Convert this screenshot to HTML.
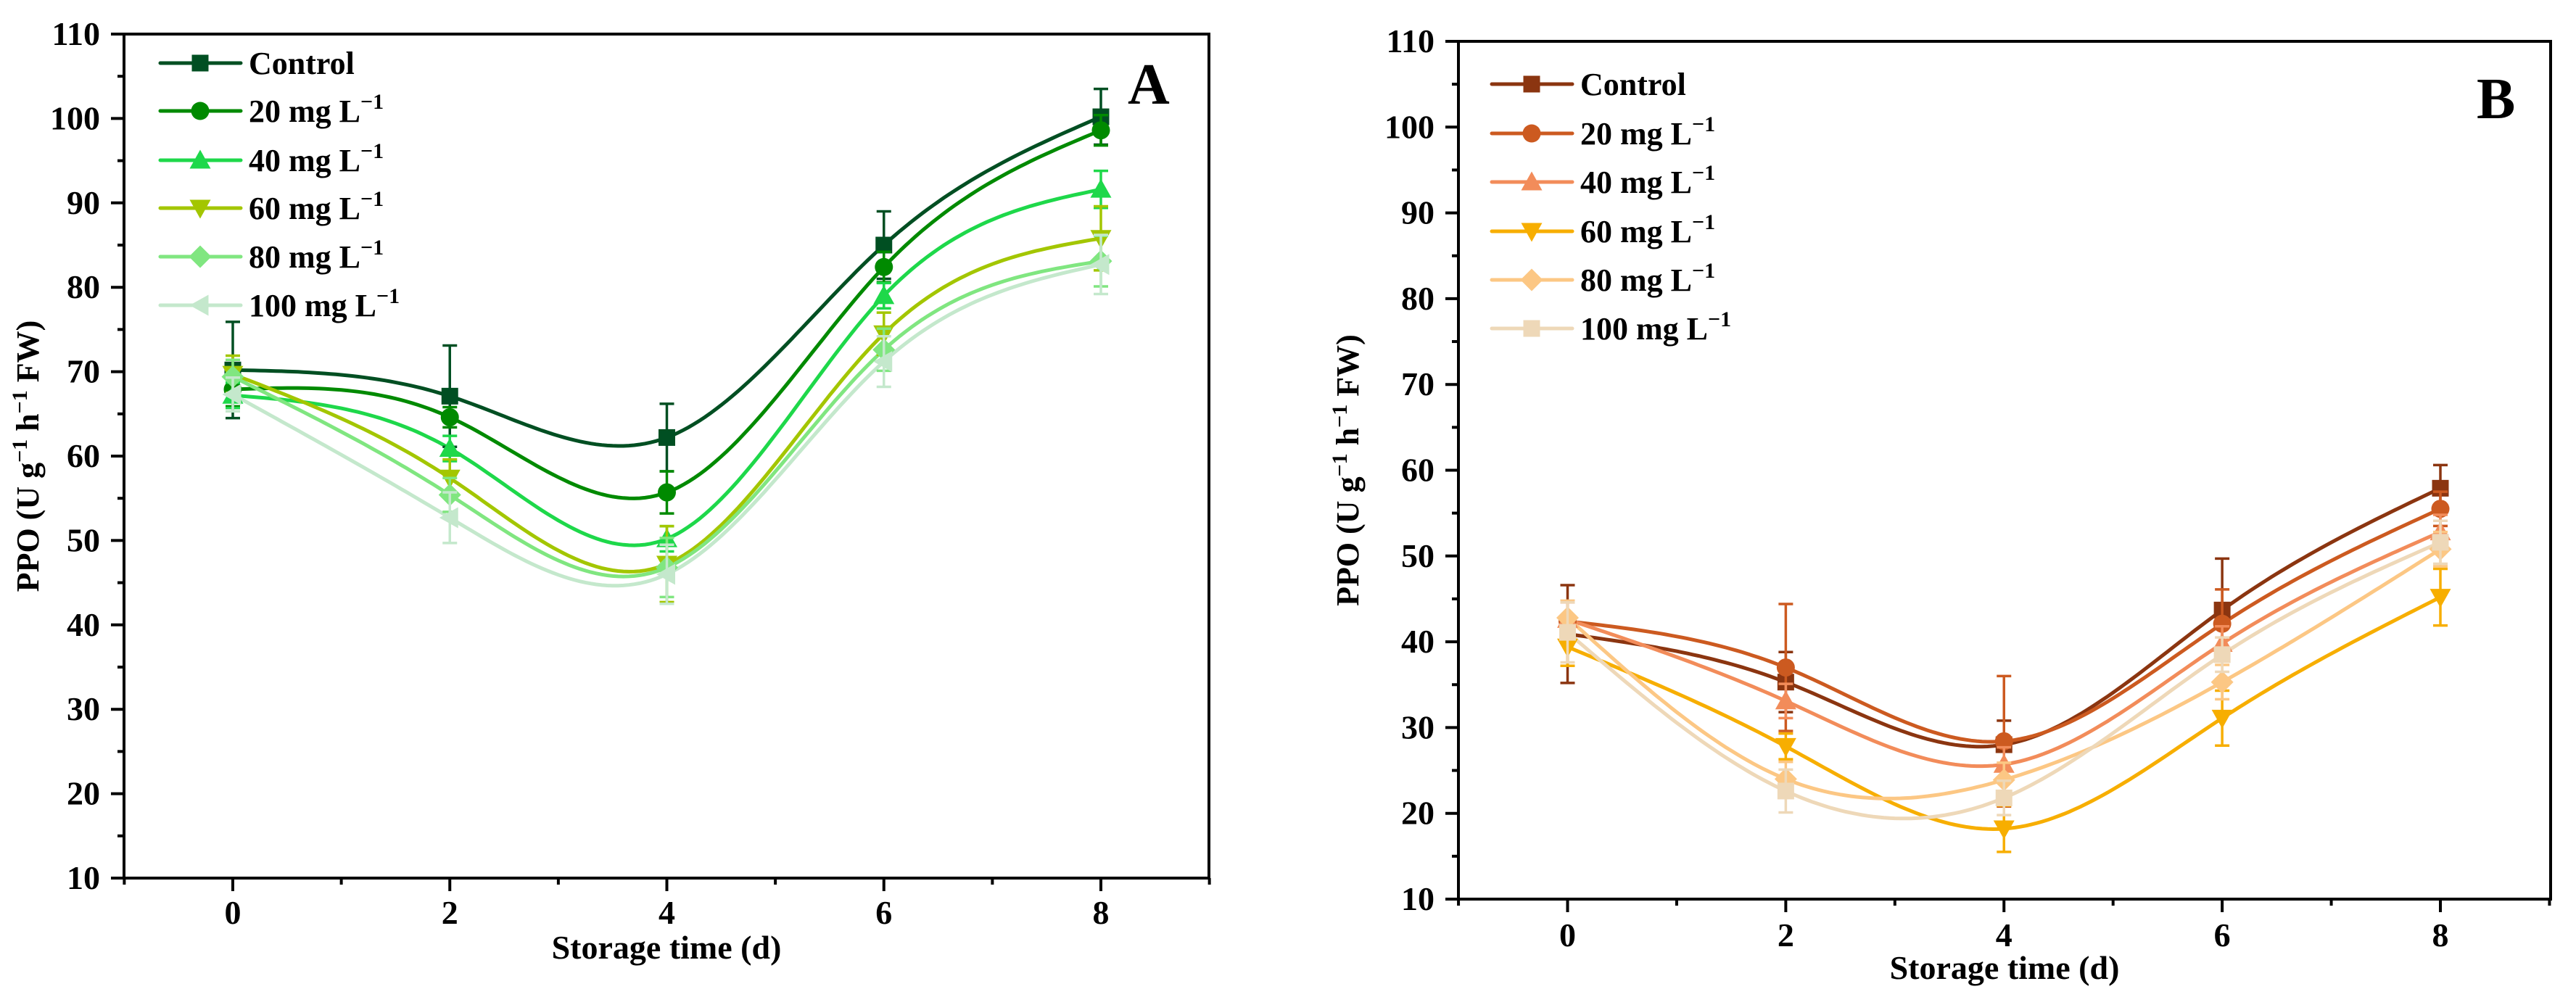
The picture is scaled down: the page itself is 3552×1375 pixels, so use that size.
<!DOCTYPE html>
<html><head><meta charset="utf-8"><style>
html,body{margin:0;padding:0;background:#fff;}
svg{display:block;}
text{font-family:"Liberation Serif",serif;font-weight:bold;fill:#000;}
</style></head><body>
<svg id="chart" width="3552" height="1375" viewBox="0 0 3552 1375" xmlns="http://www.w3.org/2000/svg"></svg>
<script>
const days = [0, 2, 4, 6, 8];
const seriesNames = ["Control", "20 mg L", "40 mg L", "60 mg L", "80 mg L", "100 mg L"];
const yTicks = [10, 20, 30, 40, 50, 60, 70, 80, 90, 100, 110];
const xTicks = [0, 2, 4, 6, 8];
// Panel A
const aControl = [70.2, 67.1, 62.2, 85.0, 100.2];
const a20 = [67.9, 64.6, 55.7, 82.4, 98.6];
const a40 = [67.2, 60.9, 50.2, 79.0, 91.6];
const a60 = [69.7, 57.4, 47.2, 74.5, 85.8];
const a80 = [69.4, 55.4, 46.8, 72.6, 83.1];
const a100 = [67.3, 52.7, 46.0, 71.2, 82.7];
const aErrControl = [5.7, 6.0, 4.0, 4.0, 3.3];
const aErr20 = [2.0, 1.2, 2.5, 1.8, 1.8];
const aErr40 = [1.5, 1.5, 1.5, 1.5, 2.2];
const aErr60 = [2.2, 2.2, 4.5, 2.5, 3.8];
const aErr80 = [2.0, 2.0, 3.5, 2.5, 3.0];
const aErr100 = [2.0, 3.0, 3.5, 3.0, 3.5];
// Panel B
const bControl = [40.9, 35.3, 28.0, 43.7, 57.9];
const b20 = [42.4, 37.0, 28.4, 42.1, 55.5];
const b40 = [42.6, 33.1, 25.7, 39.8, 52.8];
const b60 = [39.4, 27.8, 18.2, 31.1, 45.2];
const b80 = [42.8, 24.0, 23.9, 35.3, 50.8];
const b100 = [41.1, 22.6, 21.8, 38.5, 51.6];
const bErrControl = [5.7, 3.5, 2.8, 6.0, 2.7];
const bErr20 = [2.2, 7.4, 7.6, 4.0, 2.0];
const bErr40 = [2.0, 2.0, 2.0, 2.0, 2.0];
const bErr60 = [2.2, 1.5, 2.7, 3.2, 3.3];
const bErr80 = [2.0, 2.0, 2.0, 2.0, 2.0];
const bErr100 = [3.5, 2.5, 2.0, 2.0, 2.5];

const NS = "http://www.w3.org/2000/svg";
const svg = document.getElementById("chart");
function mk(tag, attrs, parent){const e=document.createElementNS(NS,tag);for(const k in attrs)e.setAttribute(k,attrs[k]);(parent||svg).appendChild(e);return e;}

function spline(xs, ys){
  const n=xs.length, h=[], a=[], l=[1], mu=[0], z=[0], c=new Array(n).fill(0), b=[], d=[];
  for(let i=0;i<n-1;i++)h[i]=xs[i+1]-xs[i];
  for(let i=1;i<n-1;i++)a[i]=3/h[i]*(ys[i+1]-ys[i])-3/h[i-1]*(ys[i]-ys[i-1]);
  for(let i=1;i<n-1;i++){l[i]=2*(xs[i+1]-xs[i-1])-h[i-1]*mu[i-1];mu[i]=h[i]/l[i];z[i]=(a[i]-h[i-1]*z[i-1])/l[i];}
  l[n-1]=1;z[n-1]=0;
  for(let j=n-2;j>=0;j--){c[j]=z[j]-mu[j]*c[j+1];b[j]=(ys[j+1]-ys[j])/h[j]-h[j]*(c[j+1]+2*c[j])/3;d[j]=(c[j+1]-c[j])/(3*h[j]);}
  return t=>{let i=Math.min(n-2,Math.max(0,xs.findIndex((v,k)=>k<n-1&&t<=xs[k+1])));if(i<0)i=n-2;const dx=t-xs[i];return ys[i]+b[i]*dx+c[i]*dx*dx+d[i]*dx*dx*dx;};
}

function marker(g, shape, cx, cy, color, s){
  let el;
  const r=s/2;
  if(shape==="square"||shape==="square2") el=mk("rect",{x:cx-r,y:cy-r,width:s,height:s,fill:color},g);
  else if(shape==="circle") el=mk("circle",{cx:cx,cy:cy,r:r+1,fill:color},g);
  else if(shape==="up") el=mk("polygon",{points:`${cx},${cy-r-3} ${cx+r+3},${cy+r} ${cx-r-3},${cy+r}`,fill:color},g);
  else if(shape==="down") el=mk("polygon",{points:`${cx-r-3},${cy-r} ${cx+r+3},${cy-r} ${cx},${cy+r+3}`,fill:color},g);
  else if(shape==="diamond") el=mk("polygon",{points:`${cx},${cy-r-4} ${cx+r+4},${cy} ${cx},${cy+r+4} ${cx-r-4},${cy}`,fill:color},g);
  else if(shape==="left") el=mk("polygon",{points:`${cx-r-3},${cy} ${cx+r},${cy-r-3} ${cx+r},${cy+r+3}`,fill:color},g);
  return el;
}

function panel(cfg){
  const {id,L,R,T,B,x0,x8,series,errs,colors,shapes,label,lx,ly,legX,legRows,tickLabelY,titleY,yTitleX}=cfg;
  const g=mk("g",{});
  
  
  const sx=v=>x0+(x8-x0)*v/8;
  const sy=v=>B-(B-T)*(v-10)/100;
  // series lines
  series.forEach((ys,si)=>{
    const f=spline(days,ys);
    let d="";
    for(let t=0;t<=8.0001;t+=0.05){d+=(t===0?"M":"L")+sx(t).toFixed(1)+","+sy(f(t)).toFixed(1);}
    const p=mk("path",{d:d,fill:"none",stroke:colors[si],"stroke-width":5},g);
    
    
  });
  // error bars and markers
  series.forEach((ys,si)=>{
    ys.forEach((v,i)=>{
      const cx=sx(days[i]), e=errs[si][i];
      const eb=mk("path",{d:`M${cx},${sy(v+e)}V${sy(v-e)}M${cx-10},${sy(v+e)}h20M${cx-10},${sy(v-e)}h20`,stroke:colors[si],"stroke-width":3.5,fill:"none"},g);
      
      
      const m=marker(g,shapes[si],cx,sy(v),colors[si],23);
      
      
    });
  });
  // axes frame
  const fr=mk("rect",{x:L,y:T,width:R-L,height:B-T,fill:"none",stroke:"#000","stroke-width":4},g);
  
  
  // y ticks
  yTicks.forEach(v=>{
    mk("line",{x1:L-18,x2:L,y1:sy(v),y2:sy(v),stroke:"#000","stroke-width":4},g);
    if(v<110) mk("line",{x1:L-9,x2:L,y1:sy(v+5),y2:sy(v+5),stroke:"#000","stroke-width":4},g);
    const t=mk("text",{x:L-33,y:sy(v)+15,"text-anchor":"end","font-size":46},g);
    t.textContent=v;
    
    
  });
  // x ticks
  for(let v=-1;v<=9;v++){
    const major=xTicks.includes(v);
    mk("line",{x1:sx(v),x2:sx(v),y1:B,y2:B+(major?18:9),stroke:"#000","stroke-width":4},g);
    if(major){
      const t=mk("text",{x:sx(v),y:tickLabelY+16,"text-anchor":"middle","font-size":46},g);
      t.textContent=v;
      
      
    }
  }
  const xt=mk("text",{x:(L+R)/2,y:titleY+16,"text-anchor":"middle","font-size":46},g);
  xt.textContent="Storage time (d)";
  
  
  const yc=(T+B)/2;
  const yt=mk("text",{x:yTitleX+15,y:yc,transform:`rotate(-90 ${yTitleX+15} ${yc})`,"text-anchor":"middle","font-size":44},g);
  yt.innerHTML='PPO (U g<tspan dy="-16" font-size="30">−1</tspan><tspan dy="16"> h</tspan><tspan dy="-16" font-size="30">−1</tspan><tspan dy="16"> FW)</tspan>';
  
  
  const pl=mk("text",{x:lx,y:ly,"font-size":80},g);
  pl.textContent=label;
  
  
  // legend
  seriesNames.forEach((nm,si)=>{
    const y=legRows[si];
    const lg=mk("g",{},g);
    
    
    mk("line",{x1:legX,x2:legX+111,y1:y,y2:y,stroke:colors[si],"stroke-width":5,"stroke-linecap":"round"},lg);
    marker(lg,shapes[si],legX+55,y,colors[si],23);
    const t=mk("text",{x:legX+122,y:y+15,"font-size":44},lg);
    if(si===0) t.textContent=nm;
    else t.innerHTML=nm+'<tspan dy="-18" font-size="30">−1</tspan>';
  });
}

panel({id:"a",L:171,R:1667,T:47,B:1211,x0:321,x8:1518,
  series:[aControl,a20,a40,a60,a80,a100],
  errs:[aErrControl,aErr20,aErr40,aErr60,aErr80,aErr100],
  colors:["#004f22","#008a00","#1ed84a","#a3c600","#80e680","#c4e8cc"],
  shapes:["square","circle","up","down","diamond","left"],
  label:"A",lx:1555,ly:143,legX:221,legRows:[87,153,221,287,354,421],
  tickLabelY:1258,titleY:1306,yTitleX:38});
panel({id:"b",L:2011,R:3517,T:57,B:1240,x0:2161.5,x8:3365,
  series:[bControl,b20,b40,b60,b80,b100],
  errs:[bErrControl,bErr20,bErr40,bErr60,bErr80,bErr100],
  colors:["#8b3510","#cc5a20","#f28c5a","#f7ae00","#fcc784","#eed8b8"],
  shapes:["square","circle","up","down","diamond","square2"],
  label:"B",lx:3415,ly:163,legX:2057,legRows:[116,184,251,319,386,453],
  tickLabelY:1289,titleY:1334,yTitleX:1858});
</script>
</body></html>
